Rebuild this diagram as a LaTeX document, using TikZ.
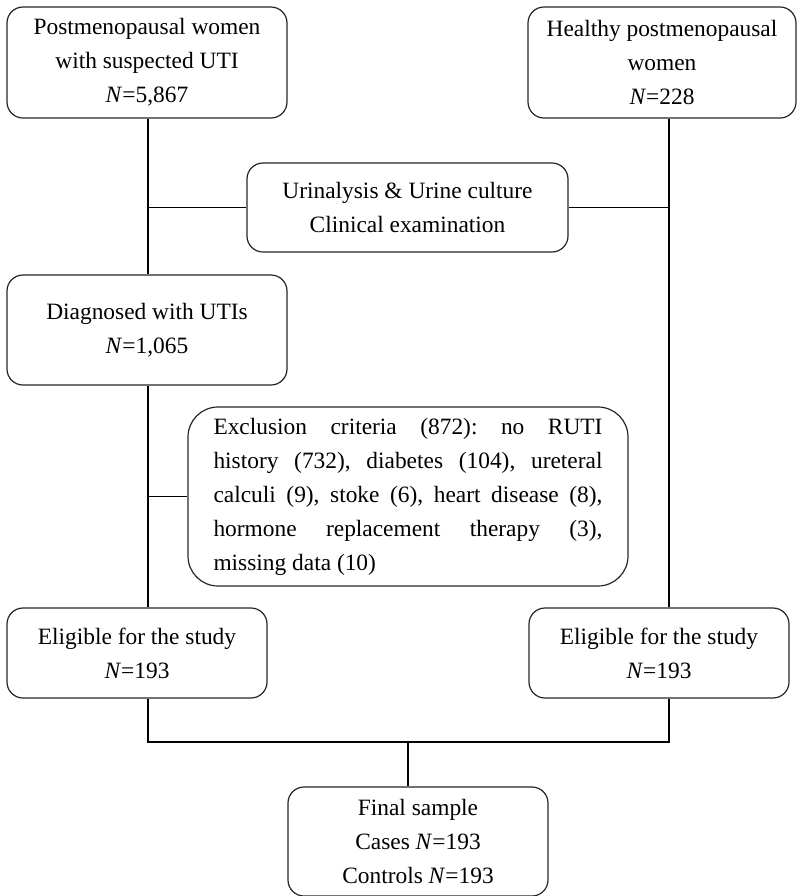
\documentclass[tikz,border=0pt]{standalone}
\usepackage{fontspec}
\setmainfont{Liberation Serif}
\usetikzlibrary{positioning}
\begin{document}
\begin{tikzpicture}[x=0.5pt,y=-0.5pt,
    box/.style={draw=black!85, rounded corners=8pt, line width=0.6pt,
      align=center, inner sep=0pt,
      font=\fontsize{11.7}{17}\selectfont\frenchspacing},
    link/.style={line width=0.6pt}]
  \useasboundingbox (0,0) rectangle (797,896);

  \node[box, minimum width=140pt, minimum height=55.5pt] (women) at (147,62.5)
    {Postmenopausal women\\with suspected UTI\\\textit{N}=5,867};
  \node[box, minimum width=134pt, minimum height=55.5pt] (healthy) at (662,62.5)
    {Healthy postmenopausal\\women\\\textit{N}=228};
  \node[box, minimum width=160.5pt, minimum height=44.5pt] (exam) at (407.5,207.5)
    {Urinalysis \& Urine culture\\Clinical examination};
  \node[box, minimum width=140pt, minimum height=55pt] (diag) at (147,330)
    {Diagnosed with UTIs\\\textit{N}=1,065};
  \node[box, rounded corners=15pt, text width=194.5pt, inner xsep=12.75pt,
    minimum height=89.5pt, align=justify] (excl) at (408,496.5)
    {Exclusion criteria (872): no RUTI\linebreak
     history (732), diabetes (104), ureteral\linebreak
     calculi (9), stoke (6), heart disease (8),\linebreak
     hormone replacement therapy (3),\linebreak
     missing data (10)};
  \node[box, minimum width=130pt, minimum height=45pt] (eligL) at (137,653)
    {Eligible for the study\\\textit{N}=193};
  \node[box, minimum width=130pt, minimum height=45pt] (eligR) at (659,653)
    {Eligible for the study\\\textit{N}=193};
  \node[box, minimum width=130pt, minimum height=54.5pt] (final) at (418,841.5)
    {Final sample\\Cases \textit{N}=193\\Controls \textit{N}=193};

  % spines
  \coordinate (lspine) at (148,0);
  \coordinate (rspine) at (669,0);
  \coordinate (cspine) at (408,0);
  \coordinate (bus) at (0,742);

  \draw[link] (lspine |- women.south) -- (lspine |- diag.north);
  \draw[link] (lspine |- exam.west) -- (exam.west);
  \draw[link] (exam.east) -- (rspine |- exam.east);
  \draw[link] (rspine |- healthy.south) -- (rspine |- eligR.north);
  \draw[link] (lspine |- diag.south) -- (lspine |- eligL.north);
  \draw[link] (lspine |- excl.west) -- (excl.west);
  \draw[link] (lspine |- eligL.south) -- (lspine |- bus) -- (rspine |- bus)
    -- (rspine |- eligR.south);
  \draw[link] (cspine |- bus) -- (cspine |- final.north);
\end{tikzpicture}
\end{document}
